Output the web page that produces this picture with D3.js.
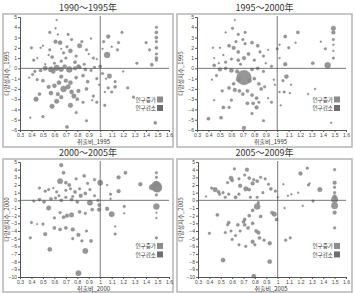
<!DOCTYPE html>
<html>
<head>
<meta charset="utf-8">
<script src="https://cdn.jsdelivr.net/npm/d3@7"></script>
<style>
body { margin: 0; background: #fff; }
text { font-family: "Noto Sans CJK KR", "Noto Sans", sans-serif; fill: #333; }
.axis path, .axis line { stroke: #555; }
.axis text { font-family: "Liberation Sans", sans-serif; font-size: 5px; fill: #444; }
</style>
</head>
<body>
<script>
// [취출비, 다양성지수, 인구규모]
const pts1990 = [
  [0.62,4.7,1],[0.61,3.9,1],[0.56,3.5,2],[0.63,3.3,1],[0.72,3.3,2],[0.50,2.2,1],[0.40,2.0,2],[0.48,2.0,1],
  [0.56,1.8,2],[0.61,2.6,4],[0.65,2.5,5],[0.75,2.8,2],[0.82,2.2,6],[0.84,2.6,2],[0.74,1.7,5],[0.88,1.8,2],
  [0.94,1.0,2],[0.79,1.2,2],[0.70,1.0,2],[0.66,0.7,2],[0.60,0.5,2],[0.52,0.4,1],[0.90,1.4,1],[0.97,0.9,1],
  [0.45,1.0,1],[0.42,0.8,2],[0.55,1.3,1],[0.68,1.5,2],[0.78,0.6,3],[0.86,0.4,2],[0.58,1.1,3],[0.71,2.1,2],
  [0.66,1.9,1],[0.92,2.9,1],[0.81,0.2,4],
  [0.52,0.0,6],[0.57,-0.1,8],[0.62,0.05,9],[0.66,-0.1,6],[0.73,-0.1,10],[0.48,-0.2,3],[0.43,-0.3,2],
  [0.78,0.0,4],[0.82,0.1,3],[0.87,-0.1,3],[0.92,-0.2,2],[0.95,0.1,2],[0.69,0.2,4],[0.59,-0.3,5],
  [0.66,-0.8,4],[0.70,-1.2,4],[0.74,-1.4,5],[0.79,-0.9,3],[0.85,-0.7,3],[0.89,-1.3,3],[0.88,-2.0,3],
  [0.64,-1.4,5],[0.60,-1.7,5],[0.68,-2.0,10],[0.72,-1.8,6],[0.75,-2.3,5],[0.77,-2.7,6],[0.81,-2.2,4],
  [0.55,-1.8,4],[0.50,-1.2,3],[0.45,-1.1,2],[0.41,-0.6,2],[0.38,-0.9,1],[0.47,-2.5,3],[0.57,-2.4,5],
  [0.63,-2.5,4],[0.66,-2.8,4],[0.44,-3.0,6],[0.62,-3.2,6],[0.58,-3.7,6],[0.74,-3.6,6],[0.80,-3.0,3],
  [0.85,-3.3,2],[0.79,-4.3,2],[0.88,-5.1,2],[0.71,-5.7,3],[0.50,-4.7,2],[0.39,-4.8,1],[0.94,-2.7,2],
  [0.97,-3.3,2],[0.93,-3.1,1],[0.97,-1.0,2],[0.99,-1.6,1],
  [1.03,2.6,2],[1.07,3.1,4],[1.16,2.5,2],[1.19,3.5,2],[1.06,1.3,10],[1.15,1.8,2],[1.02,1.9,1],[1.10,2.1,1],
  [1.40,2.5,2],[1.43,1.8,2],[1.32,0.5,2],[1.45,0.35,3],[1.49,4.0,2],[1.49,3.5,3],[1.49,3.0,3],[1.49,2.6,2],
  [1.49,2.0,3],[1.49,1.4,2],[1.49,1.0,3],[1.49,0.8,2],[1.48,-5.3,3],[1.08,-0.75,6],[1.07,-1.9,2],
  [1.13,-1.3,2],[1.13,-1.8,3],[1.10,-2.3,2],[1.04,-2.3,1],[1.24,-1.9,2],[1.29,-2.8,2],[1.04,-3.6,2],
  [1.02,-0.5,2],[1.05,-1.0,1],[1.20,-0.3,1],[1.00,0.2,3]
];
const pts1995 = [
  [0.63,4.7,1],[0.61,3.9,2],[0.55,3.5,1],[0.66,3.3,2],[0.72,3.5,2],[0.50,2.0,1],[0.44,2.0,1],[0.58,2.2,3],
  [0.62,2.0,4],[0.66,1.6,3],[0.72,2.4,2],[0.78,2.5,3],[0.83,2.2,3],[0.85,1.6,2],[0.75,1.4,3],[0.71,1.0,4],
  [0.66,0.8,3],[0.60,0.9,2],[0.55,0.6,2],[0.49,0.5,1],[0.80,0.8,2],[0.88,1.2,2],[0.92,1.8,1],[0.90,0.5,1],
  [0.95,0.2,2],[0.68,0.4,2],[0.53,1.3,1],[0.45,1.0,1],[0.70,2.8,2],[0.64,2.6,2],
  [0.45,0.3,3],[0.50,-0.1,4],[0.55,0.0,3],[0.60,-0.2,5],[0.65,-0.3,4],[0.78,-0.1,3],[0.83,0.0,3],
  [0.88,-0.3,2],[0.43,-1.1,1],[0.47,-0.7,2],
  [0.71,-0.9,60],[0.66,-1.1,5],[0.76,-1.2,4],[0.80,-1.0,3],[0.84,-1.5,3],[0.62,-1.5,3],[0.58,-1.9,3],
  [0.63,-2.1,4],[0.67,-2.2,3],[0.70,-2.5,3],[0.74,-2.2,3],[0.78,-2.6,3],[0.82,-2.9,3],[0.86,-2.0,3],
  [0.89,-1.8,2],[0.52,-2.2,2],[0.45,-3.1,1],[0.53,-3.8,3],[0.58,-3.8,2],[0.74,-3.4,3],[0.79,-3.4,3],
  [0.82,-3.8,4],[0.84,-3.3,2],[0.78,-4.4,2],[0.88,-5.1,2],[0.40,-4.9,3],[0.51,-4.8,3],[0.71,-5.8,4],
  [0.92,-2.9,1],[0.95,-3.3,2],[0.97,-1.1,1],[0.98,-1.6,1],[0.60,-3.1,2],
  [1.02,2.3,1],[1.00,1.9,2],[1.07,3.1,3],[1.10,2.0,2],[1.18,3.5,3],[1.16,2.5,1],[1.07,0.4,4],[1.02,1.0,1],
  [1.38,2.6,1],[1.42,1.9,2],[1.31,0.5,3],[1.44,0.3,10],[1.49,3.9,6],[1.49,3.5,4],[1.49,2.8,2],[1.49,2.3,1],
  [1.49,1.7,1],[1.49,1.0,2],[1.08,-0.8,5],[1.05,-1.2,2],[1.02,-2.3,1],[1.06,-2.3,2],[1.11,-2.4,1],
  [1.27,-2.5,1],[1.33,-2.0,1],[1.03,-3.6,1],[1.47,-5.3,1],[1.12,-1.6,1]
];
const pts2000 = [
  [0.66,4.6,4],[0.68,3.6,3],[0.65,2.5,8],[0.70,2.3,3],[0.73,2.0,3],[0.79,2.8,2],[0.86,3.2,3],[0.89,2.2,2],
  [0.95,2.7,2],[1.00,2.3,8],[1.06,2.0,1],[1.16,3.0,4],[1.22,3.6,3],[1.16,1.2,4],[1.09,0.8,2],[1.09,0.2,1],
  [1.35,2.1,4],
  [1.49,1.8,30],[1.45,1.7,8],[1.50,1.6,20],[1.49,2.2,6],[1.49,3.6,2],[1.49,3.0,2],[1.49,0.7,2],[1.49,-0.8,10],
  [1.49,-1.6,1],[1.49,-2.3,1],[1.49,-4.9,2],
  [0.47,1.6,2],[0.52,1.2,2],[0.55,1.4,2],[0.59,1.6,1],[0.62,1.1,2],[0.70,1.3,2],[0.74,1.5,2],[0.78,1.1,3],
  [0.82,1.5,2],[0.87,0.9,3],[0.91,1.4,2],[0.83,0.6,4],[0.76,0.5,2],[0.64,0.6,2],[0.57,0.2,3],[0.47,0.1,3],
  [0.42,-0.1,2],[0.51,-0.2,3],[0.55,-1.0,6],[0.61,0.3,2],[0.66,0.0,3],[0.70,0.4,2],[0.75,0.1,3],[0.80,-0.2,3],
  [0.91,-0.3,8],[0.95,0.6,2],[0.98,0.0,2],[0.99,-0.6,3],[0.99,-1.2,4],[1.06,-1.1,4],[1.10,-1.8,8],
  [1.13,-3.4,1],[1.13,-4.4,2],[1.21,-0.8,2],[1.21,-1.7,1],[0.71,-2.0,4],[0.75,-1.9,6],[0.68,-2.2,3],
  [0.82,-1.5,3],[0.87,-1.7,2],[0.93,-1.2,3],[0.50,-3.1,2],[0.45,-3.1,1],[0.60,-3.6,3],[0.65,-3.8,3],
  [0.70,-3.6,3],[0.76,-3.8,4],[0.81,-4.5,4],[0.84,-5.3,2],[0.76,-5.0,2],[0.52,-4.4,4],[0.39,-4.9,2],
  [0.56,-6.4,5],[0.87,-6.6,8],[0.81,-9.5,8],[0.60,-2.3,2],[0.65,-1.6,2],[0.88,-4.0,2],[0.92,-5.3,3],
  [0.40,-2.9,2]
];
const pts2005 = [
  [0.62,4.1,2],[0.73,4.0,4],[0.71,3.3,2],[0.59,2.9,5],[0.60,2.6,3],[0.56,2.3,2],[0.45,1.4,6],[0.48,1.1,3],
  [0.49,0.8,2],[0.42,1.6,2],[0.66,2.8,2],[0.75,2.9,3],[0.79,2.7,2],[0.82,2.5,3],[0.85,3.0,2],[0.67,1.9,4],
  [0.72,1.5,6],[0.75,1.4,3],[0.78,2.2,4],[0.89,2.8,2],[0.92,2.1,2],[0.94,1.5,3],[0.87,1.0,2],[0.82,0.4,2],
  [0.76,0.4,2],[0.83,-0.3,2],[0.98,1.2,2],[1.00,0.4,1],[0.63,0.4,3],[0.66,0.8,2],[0.57,0.8,2],[0.54,0.4,2],
  [0.52,1.0,2],[0.37,0.5,1],[1.05,2.1,1],[1.09,0.6,1],[1.06,-1.0,1],[1.12,0.8,1],[1.18,1.0,1],[1.20,3.5,4],
  [1.26,4.2,2],[1.28,2.2,1],[1.27,2.0,2],[1.22,-0.7,1],[1.31,-0.1,2],[1.37,1.4,6],
  [1.50,4.0,2],[1.50,2.3,4],[1.50,1.7,2],[1.50,1.0,2],[1.50,0.5,4],[1.50,0.1,12],[1.50,-0.7,12],
  [1.50,-1.6,4],[1.50,-3.6,2],
  [0.82,-0.8,10],[0.78,-1.3,3],[0.75,-2.0,3],[0.85,-2.1,3],[0.71,-2.5,3],[0.70,-2.8,3],[0.97,-1.8,6],
  [0.95,-1.6,3],[0.99,-2.5,3],[0.47,-1.9,3],[0.57,-2.9,3],[0.56,-3.2,2],[0.65,-3.2,3],[0.71,-3.2,3],
  [0.74,-3.6,3],[0.78,-3.0,3],[0.81,-4.0,3],[0.83,-4.2,4],[0.84,-4.9,3],[0.78,-5.4,4],[0.80,-5.8,2],
  [0.67,-4.0,2],[0.66,-5.8,2],[0.72,-6.0,2],[0.93,-5.6,4],[0.88,-5.2,2],[1.07,-5.2,2],[1.11,-4.9,2],
  [0.54,-4.2,2],[0.59,-4.0,2],[0.40,-4.3,2],[0.52,-7.8,5],[0.93,-8.0,5],[0.79,-9.9,5],[0.60,-5.1,2],
  [0.63,-4.6,2]
];

const titles = ['1990〜1995年', '1995〜2000年', '2000〜2005年', '2005〜2009年'];
const yearTags = ['1995', '1995', '2000', '2005'];
const legendLabels = ['인구증가', '인구감소'];
const xTicks = d3.range(3, 17).map(d => d / 10);

const W = 355, H = 293;
const svg = d3.select('body').append('svg').attr('width', W).attr('height', H);

const panels = [
  { data: pts1990, box: [3, 14, 170, 133], x: [20, 169], y: [17, 130], yDom: [-6, 5] },
  { data: pts1995, box: [177, 14, 175, 133], x: [197, 346], y: [17, 130], yDom: [-6, 5] },
  { data: pts2000, box: [3, 159, 170, 133], x: [20, 169], y: [162, 277], yDom: [-10, 5] },
  { data: pts2005, box: [177, 159, 175, 133], x: [198, 346], y: [162, 277], yDom: [-10, 5] }
];

const r = d3.scaleSqrt().domain([0, 100]).range([0, 9.5]);
const fmt = d3.format('.1~f');

panels.forEach((p, i) => {
  const g = svg.append('g');
  const x = d3.scaleLinear().domain([0.3, 1.6]).range(p.x);
  const y = d3.scaleLinear().domain(p.yDom).range([p.y[1], p.y[0]]);

  g.append('rect')
    .attr('x', p.box[0]).attr('y', p.box[1]).attr('width', p.box[2]).attr('height', p.box[3])
    .attr('fill', 'none').attr('stroke', '#b5b5b5').attr('stroke-width', 1.5);

  g.append('text')
    .attr('x', (p.box[0] + p.box[0] + p.box[2]) / 2).attr('y', p.box[1] - 3)
    .attr('text-anchor', 'middle').attr('font-size', 9).attr('fill', '#222')
    .text(titles[i]);

  // points
  g.append('g').selectAll('circle').data(p.data.slice().sort((a, b) => b[2] - a[2])).enter().append('circle')
    .attr('cx', d => x(d[0])).attr('cy', d => y(d[1])).attr('r', d => r(d[2]))
    .attr('fill', '#8c8c8c').attr('fill-opacity', 0.9)
    .attr('stroke', '#7a7a7a').attr('stroke-width', 0.3);

  // reference lines
  g.append('line').attr('x1', x(1)).attr('x2', x(1)).attr('y1', p.y[0] - 1).attr('y2', p.y[1])
    .attr('stroke', '#555').attr('stroke-width', 0.8);
  g.append('line').attr('x1', p.x[0]).attr('x2', p.x[1]).attr('y1', y(0)).attr('y2', y(0))
    .attr('stroke', '#555').attr('stroke-width', 0.8);

  const yAxis = d3.axisLeft(y).tickValues(d3.range(p.yDom[0], p.yDom[1] + 1)).tickSize(2).tickPadding(1);
  g.append('g').attr('class', 'axis').attr('transform', `translate(${p.x[0]},0)`).call(yAxis);

  const xAxis = d3.axisBottom(x).tickValues(xTicks).tickFormat(fmt).tickSize(2).tickPadding(1);
  g.append('g').attr('class', 'axis').attr('transform', `translate(0,${p.y[1]})`).call(xAxis);

  g.append('text')
    .attr('transform', `translate(${p.box[0] + 6},${(p.y[0] + p.y[1]) / 2}) rotate(-90)`)
    .attr('text-anchor', 'middle').attr('font-size', 6).attr('fill', '#333')
    .text('다양성지수_' + yearTags[i]);

  g.append('text')
    .attr('x', (p.x[0] + p.x[1]) / 2 - 1).attr('y', p.y[1] + 14)
    .attr('text-anchor', 'middle').attr('font-size', 6).attr('fill', '#333')
    .text('취출비_' + yearTags[i]);

  // legend
  const lx = p.x[1] - 5, ly = y(p.yDom[0]) - (p.y[1] - p.y[0]) * 0.27;
  legendLabels.forEach((lab, k) => {
    g.append('rect').attr('x', lx - 7).attr('y', ly + k * 8.5 - 3).attr('width', 6).attr('height', 6)
      .attr('fill', k === 0 ? '#8c8c8c' : '#6e6e6e');
    g.append('text').attr('x', lx - 8).attr('y', ly + k * 8.5 + 2.3)
      .attr('text-anchor', 'end').attr('font-size', 5.6).attr('fill', '#333').text(lab);
  });
});
</script>
</body>
</html>
